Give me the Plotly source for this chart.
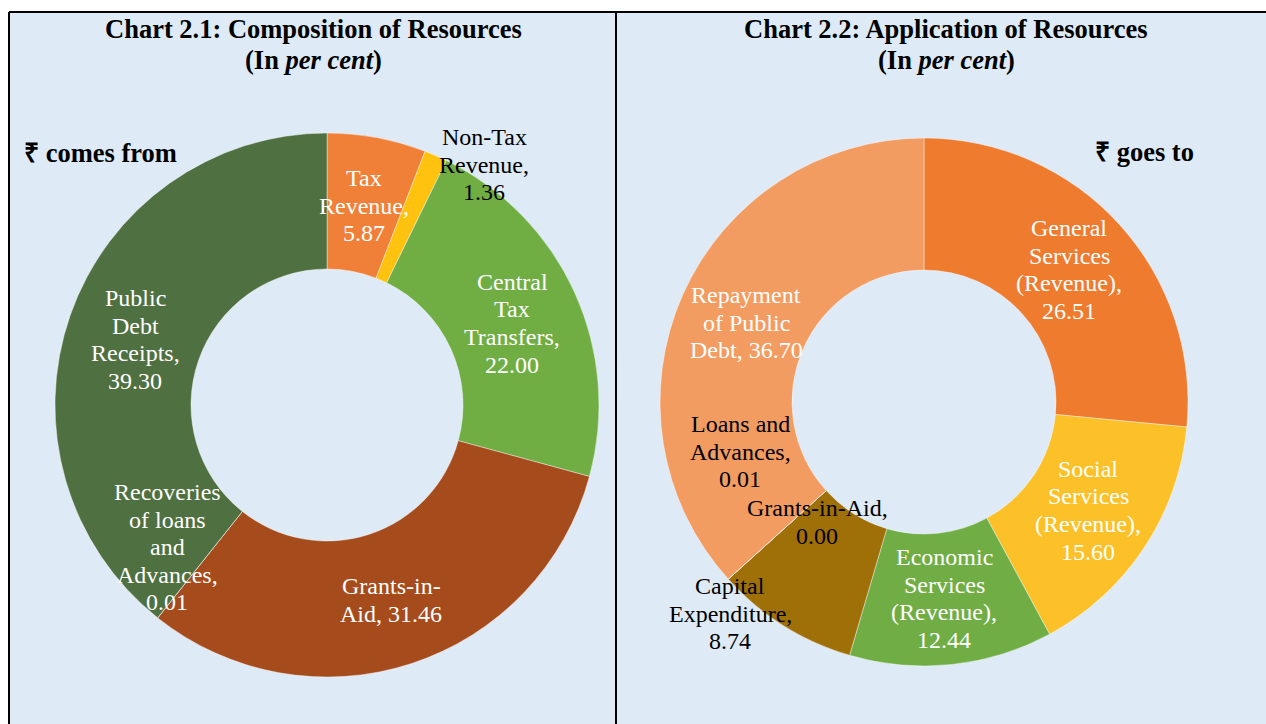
import plotly.graph_objects as go

W, H = 1266, 724

# ---------------- data ----------------
src_categories = ["Tax Revenue", "Non-Tax Revenue", "Central Tax Transfers", "Grants-in-Aid",
                  "Recoveries of loans and Advances", "Public Debt Receipts"]
src_values = [5.87, 1.36, 22.00, 31.46, 0.01, 39.30]
src_colors = ["#F07F38", "#FFC20E", "#70AE44", "#A64B1C", "#436A2E", "#4F7040"]
src_label_templates = ["Tax|Revenue,|{v}", "Non-Tax|Revenue,|{v}", "Central|Tax|Transfers,|{v}",
                       "Grants-in-|Aid, {v}", "Recoveries|of loans|and|Advances,|{v}",
                       "Public|Debt|Receipts,|{v}"]

app_categories = ["General Services (Revenue)", "Social Services (Revenue)", "Economic Services (Revenue)",
                  "Capital Expenditure", "Grants-in-Aid", "Loans and Advances", "Repayment of Public Debt"]
app_values = [26.51, 15.60, 12.44, 8.74, 0.00, 0.01, 36.70]
app_colors = ["#EE7B2E", "#FCC128", "#70AE45", "#9F6F08", "#9F6F08", "#F2975C", "#F39C62"]
app_label_templates = ["General|Services|(Revenue),|{v}", "Social|Services|(Revenue),|{v}",
                       "Economic|Services|(Revenue),|{v}", "Capital|Expenditure,|{v}",
                       "Grants-in-Aid,|{v}", "Loans and|Advances,|{v}", "Repayment|of Public|Debt, {v}"]

# ---------------- layout helpers (pixel -> paper) ----------------
def px(x):
    return x / W


def py(y):
    return 1 - y / H


FONT = "Liberation Serif, Times New Roman, serif"
BG = "#DEEAF6"

fig = go.Figure()

fig.add_trace(go.Pie(
    labels=src_categories, values=src_values, hole=0.5, sort=False, direction="clockwise",
    rotation=0, textinfo="none", hoverinfo="label+value",
    marker=dict(colors=src_colors, line=dict(color="rgba(255,255,255,0.5)", width=0.8)),
    domain=dict(x=[px(55), px(599)], y=[py(677), py(133)]), showlegend=False,
))
fig.add_trace(go.Pie(
    labels=app_categories, values=app_values, hole=0.5, sort=False, direction="clockwise",
    rotation=0, textinfo="none", hoverinfo="label+value",
    marker=dict(colors=app_colors, line=dict(color="rgba(255,255,255,0.5)", width=0.8)),
    domain=dict(x=[px(660), px(1188)], y=[py(666), py(138)]), showlegend=False,
))

annotations = []

# label placements: (center x px, first line y px, colour)
src_label_pos = [(364, 178, "white"), (484, 137, "black"), (512, 282, "white"),
                 (391, 586, "white"), (167, 492, "white"), (135, 298, "white")]
app_label_pos = [(1069, 228, "white"), (1088, 469, "white"), (944, 557, "white"),
                 (730, 586, "black"), (817, 508, "black"), (740, 424, "black"), (746, 295, "white")]

LINE = 27.5


def add_labels(templates, values, positions):
    for tpl, v, (cx, y0, col) in zip(templates, values, positions):
        lines = tpl.format(v=f"{v:.2f}").split("|")
        for i, ln in enumerate(lines):
            annotations.append(dict(
                x=px(cx), y=py(y0 + i * LINE), xref="paper", yref="paper", text=ln,
                showarrow=False, xanchor="center", yanchor="middle",
                font=dict(family=FONT, size=24, color=col)))


add_labels(src_label_templates, src_values, src_label_pos)
add_labels(app_label_templates, app_values, app_label_pos)

# titles
for cx, t in [(313, "Chart 2.1: Composition of Resources"), (946, "Chart 2.2: Application of Resources")]:
    annotations.append(dict(x=px(cx), y=py(29), xref="paper", yref="paper", text=f"<b>{t}</b>",
                            showarrow=False, xanchor="center", yanchor="middle",
                            font=dict(family=FONT, size=26.5, color="black")))
    annotations.append(dict(x=px(cx), y=py(60), xref="paper", yref="paper",
                            text="<b>(In <i>per cent</i>)</b>",
                            showarrow=False, xanchor="center", yanchor="middle",
                            font=dict(family=FONT, size=26.5, color="black")))

annotations.append(dict(x=px(22), y=py(153), xref="paper", yref="paper", text="<b>₹ comes from</b>",
                        showarrow=False, xanchor="left", yanchor="middle",
                        font=dict(family=FONT, size=26.5, color="black")))
annotations.append(dict(x=px(1196), y=py(152), xref="paper", yref="paper", text="<b>₹ goes to</b>",
                        showarrow=False, xanchor="right", yanchor="middle",
                        font=dict(family=FONT, size=26.5, color="black")))

shapes = [
    dict(type="rect", xref="paper", yref="paper", x0=px(9), x1=1.01, y0=-0.01, y1=py(12),
         fillcolor=BG, line=dict(width=0), layer="below"),
    dict(type="line", xref="paper", yref="paper", x0=px(9), x1=1.01, y0=py(12), y1=py(12),
         line=dict(color="black", width=2)),
    dict(type="line", xref="paper", yref="paper", x0=px(9), x1=px(9), y0=-0.01, y1=py(12),
         line=dict(color="black", width=2)),
    dict(type="line", xref="paper", yref="paper", x0=px(616), x1=px(616), y0=-0.01, y1=py(12),
         line=dict(color="black", width=2)),
]

fig.update_layout(
    width=W, height=H, margin=dict(l=0, r=0, t=0, b=0),
    paper_bgcolor="white", plot_bgcolor="white",
    annotations=annotations, shapes=shapes,
)

fig.write_html("out.html", config={"displayModeBar": False},
               post_script="document.body.style.margin='0';document.body.style.overflow='hidden';")
